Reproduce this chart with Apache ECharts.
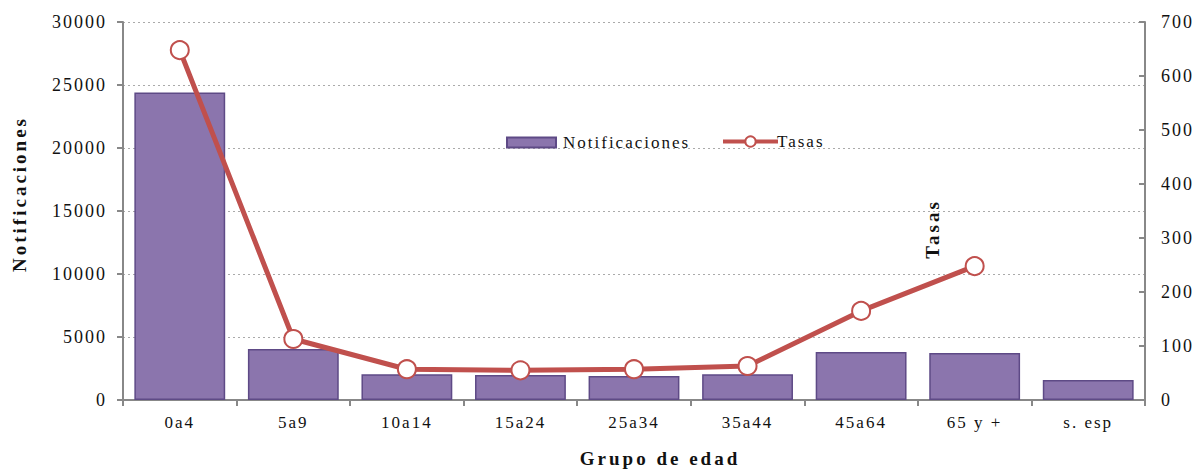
<!DOCTYPE html>
<html><head><meta charset="utf-8">
<script src="https://cdn.jsdelivr.net/npm/echarts@6/dist/echarts.min.js"></script>
<style>html,body{margin:0;padding:0;background:#fff}#c{width:1198px;height:469px}
#c text{letter-spacing:2px}
#c text[style*="bold"], #c text[font-weight="bold"]{letter-spacing:3px}</style>
</head><body><div id="c"></div>
<script>
const categories = ['0a4','5a9','10a14','15a24','25a34','35a44','45a64','65 y +','s. esp'];
const notificaciones = [24400, 4050, 2050, 1980, 1900, 2050, 3810, 3730, 1590];
const tasas = [648, 113, 57, 55, 57, 63, 165, 248, null];
const leftTicks = [0, 5000, 10000, 15000, 20000, 25000, 30000];
const rightTicks = [0, 100, 200, 300, 400, 500, 600, 700];

const font = 'Liberation Serif';
const chart = echarts.init(document.getElementById('c'), null, {renderer: 'svg'});
chart.setOption({
  animation: false,
  textStyle: {fontFamily: font},
  grid: {left: 123, right: 53, top: 22, bottom: 69, containLabel: false, outerBoundsMode: 'none'},
  legend: [{
    top: 129, left: 501, itemWidth: 49, itemHeight: 10, itemGap: 0,
    textStyle: {fontFamily: font, fontSize: 17, color: '#111', padding: [0, 0, 0, 2]},
    data: [{name: 'Notificaciones', icon: 'rect'}]
  }, {
    top: 128, left: 716, itemWidth: 55, itemHeight: 13, itemGap: 0,
    textStyle: {fontFamily: font, fontSize: 17, color: '#111', padding: [0, 0, 0, -6]},
    data: [{name: 'Tasas', lineStyle: {width: 4, color: '#c0504d'},
      itemStyle: {color: '#fff', borderColor: '#c0504d', borderWidth: 2}}]
  }],
  xAxis: {
    type: 'category', data: categories,
    axisLine: {lineStyle: {color: '#888', width: 2}},
    axisTick: {show: true, length: 6, lineStyle: {color: '#888', width: 2}},
    axisLabel: {fontFamily: font, fontSize: 17, color: '#111', margin: 14},
    name: 'Grupo de edad', nameLocation: 'middle', nameGap: 49,
    nameTextStyle: {fontFamily: font, fontSize: 19, fontWeight: 'bold', color: '#111', padding: [0, 0, 0, 52]}
  },
  yAxis: [{
    type: 'value', min: 0, max: 30000, interval: 5000,
    axisLine: {show: true, lineStyle: {color: '#888', width: 2}},
    axisTick: {show: true, length: 6, lineStyle: {color: '#888', width: 2}},
    axisLabel: {fontFamily: font, fontSize: 18, color: '#111', margin: 16,
      formatter: v => leftTicks.includes(v) ? String(v) : ''},
    splitLine: {show: true, lineStyle: {color: '#aaa', type: [2, 3], width: 1}},
    name: 'Notificaciones', nameLocation: 'middle', nameGap: 94, nameRotate: 90,
    nameTextStyle: {fontFamily: font, fontSize: 19, fontWeight: 'bold', color: '#111', padding: [0, 0, 0, 34]}
  }, {
    type: 'value', min: 0, max: 700, interval: 100, position: 'right',
    axisLine: {show: true, lineStyle: {color: '#888', width: 2}},
    axisTick: {show: true, length: 6, inside: true, lineStyle: {color: '#888', width: 2}},
    axisLabel: {fontFamily: font, fontSize: 18, color: '#111', margin: 16,
      formatter: v => rightTicks.includes(v) ? String(v) : ''},
    splitLine: {show: false}
  }],
  series: [{
    name: 'Notificaciones', type: 'bar', data: notificaciones, yAxisIndex: 0,
    barCategoryGap: '20%',
    itemStyle: {color: '#8b75ad', borderColor: '#5e4a86', borderWidth: 1.5}
  }, {
    name: 'Tasas', type: 'line', data: tasas, yAxisIndex: 1,
    symbol: 'circle', symbolSize: 18, showAllSymbol: true,
    lineStyle: {color: '#c0504d', width: 5},
    itemStyle: {color: '#fff', borderColor: '#c0504d', borderWidth: 2}
  }],
  graphic: [{
    type: 'text', x: 932, y: 229, rotation: Math.PI / 2,
    style: {text: 'Tasas', font: 'bold 19px "Liberation Serif"', fill: '#111', align: 'center', verticalAlign: 'middle'}
  }]
});
</script></body></html>
